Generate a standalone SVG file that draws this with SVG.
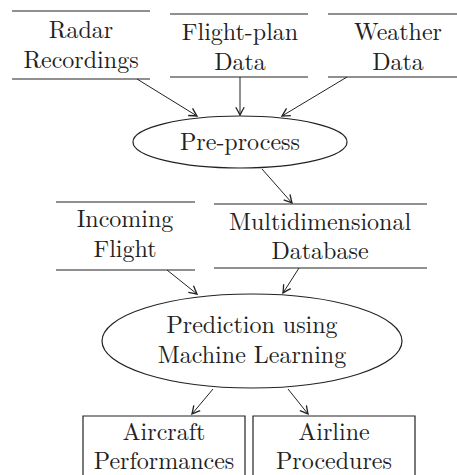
<svg xmlns="http://www.w3.org/2000/svg" width="457" height="475" viewBox="0 0 457 475">
<style>
.l{stroke:#222;stroke-width:1.2;fill:none}
.c{stroke:#222;stroke-width:1;fill:none;marker-end:url(#ah)}
</style>
<defs>
<marker id="ah" markerWidth="12" markerHeight="12" refX="0" refY="0" viewBox="-8 -5 10 10" orient="auto" markerUnits="userSpaceOnUse">
<path d="M-6.5,-3.5 Q-2,-1 0,0 Q-2,1 -6.5,3.5" stroke="#222" stroke-width="1.1" fill="none"/>
</marker>
</defs>
<rect width="457" height="475" fill="#fff"/>
<g font-family="Latin Modern Roman, Liberation Serif, serif" font-size="24" fill="#222" text-anchor="middle">
<g id="radar">
<line class="l" x1="12" y1="11" x2="150" y2="11"/>
<line class="l" x1="12" y1="79" x2="150" y2="79"/>
<text x="81" y="38">Radar</text>
<text x="81" y="68">Recordings</text>
</g>
<g id="flightplan">
<line class="l" x1="170" y1="14" x2="308" y2="14"/>
<line class="l" x1="170" y1="77" x2="308" y2="77"/>
<text x="240" y="40">Flight-plan</text>
<text x="240" y="70">Data</text>
</g>
<g id="weather">
<line class="l" x1="328" y1="14" x2="457" y2="14"/>
<line class="l" x1="328" y1="77" x2="457" y2="77"/>
<text x="398" y="40">Weather</text>
<text x="398" y="70">Data</text>
</g>
<g id="preprocess">
<ellipse class="l" cx="240" cy="142" rx="107" ry="26"/>
<text x="240" y="150">Pre-process</text>
</g>
<g id="incoming">
<line class="l" x1="56" y1="202" x2="195" y2="202"/>
<line class="l" x1="56" y1="270" x2="195" y2="270"/>
<text x="125" y="227">Incoming</text>
<text x="125" y="257">Flight</text>
</g>
<g id="multidim">
<line class="l" x1="214" y1="204" x2="427" y2="204"/>
<line class="l" x1="214" y1="268" x2="427" y2="268"/>
<text x="320" y="230">Multidimensional</text>
<text x="320" y="259">Database</text>
</g>
<g id="prediction">
<ellipse class="l" cx="252" cy="341" rx="150" ry="47"/>
<text x="252" y="333">Prediction using</text>
<text x="252" y="363">Machine Learning</text>
</g>
<g id="aircraft">
<path class="l" d="M83,476 V416 H245 V476"/>
<text x="164" y="440">Aircraft</text>
<text x="164" y="469">Performances</text>
</g>
<g id="airline">
<path class="l" d="M253,476 V416 H415 V476"/>
<text x="334" y="440">Airline</text>
<text x="334" y="469">Procedures</text>
</g>
</g>
<g id="connectors">
<line class="c" x1="137" y1="79" x2="197" y2="116"/>
<line class="c" x1="240" y1="77" x2="240" y2="115"/>
<line class="c" x1="347" y1="77" x2="282" y2="116"/>
<line class="c" x1="262" y1="169" x2="292" y2="203"/>
<line class="c" x1="167" y1="270" x2="197" y2="294"/>
<line class="c" x1="299" y1="268" x2="283" y2="293"/>
<line class="c" x1="213" y1="389" x2="192" y2="414"/>
<line class="c" x1="288" y1="389" x2="308" y2="414"/>
</g>
</svg>
